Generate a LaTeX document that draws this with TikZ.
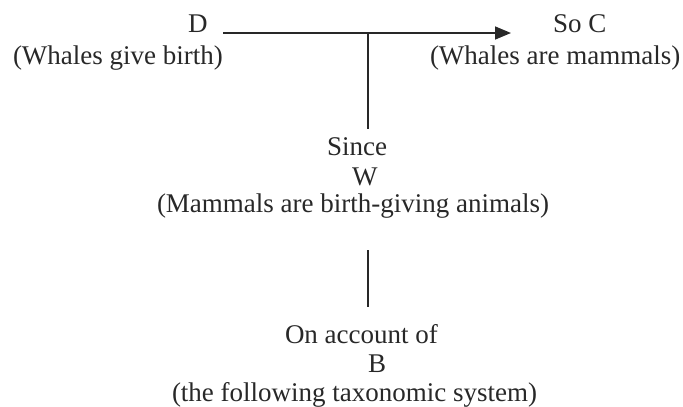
\documentclass[tikz,border=0pt]{standalone}
\usepackage{fontspec}
\setmainfont{Liberation Serif}
\usetikzlibrary{arrows.meta}
\definecolor{ink}{RGB}{40,40,40}
\tikzset{
  lbl/.style={anchor=base west, inner sep=0pt, outer sep=0pt, text=ink,
    font=\fontsize{27}{30}\selectfont},
  conn/.style={draw=ink, line width=1.6pt},
}
\begin{document}
\begin{tikzpicture}[x=1pt,y=-1pt]
\useasboundingbox (0,0) rectangle (683,407);
% top left
\node[lbl] (D) at (188,32) {D};
\node[lbl] (Dtext) at (13,64) {(Whales give birth)};
% top right
\node[lbl] (C) at (553,32) {So C};
\node[lbl] (Ctext) at (430,64) {(Whales are mammals)};
% warrant
\node[lbl] (since) at (327,155) {Since};
\node[lbl] (W) at (352,185) {W};
\node[lbl] (Wtext) at (157,212) {(Mammals are birth-giving animals)};
% backing
\node[lbl] (onacc) at (285,343) {On account of};
\node[lbl] (B) at (368,372) {B};
\node[lbl] (Btext) at (172,401) {(the following taxonomic system)};
% connector points
\coordinate (dstart) at (223,33);
\coordinate (ctip) at (511,33);
\coordinate (tjoin) at (368,33);
\coordinate (wtop) at (368,129);
\coordinate (wbot) at (368,250);
\coordinate (btop) at (368,307);
\draw[conn, -{Triangle[length=16pt,width=13pt]}] (dstart) -- (ctip);
\draw[conn] (tjoin) -- (wtop);
\draw[conn] (wbot) -- (btop);
\end{tikzpicture}
\end{document}
